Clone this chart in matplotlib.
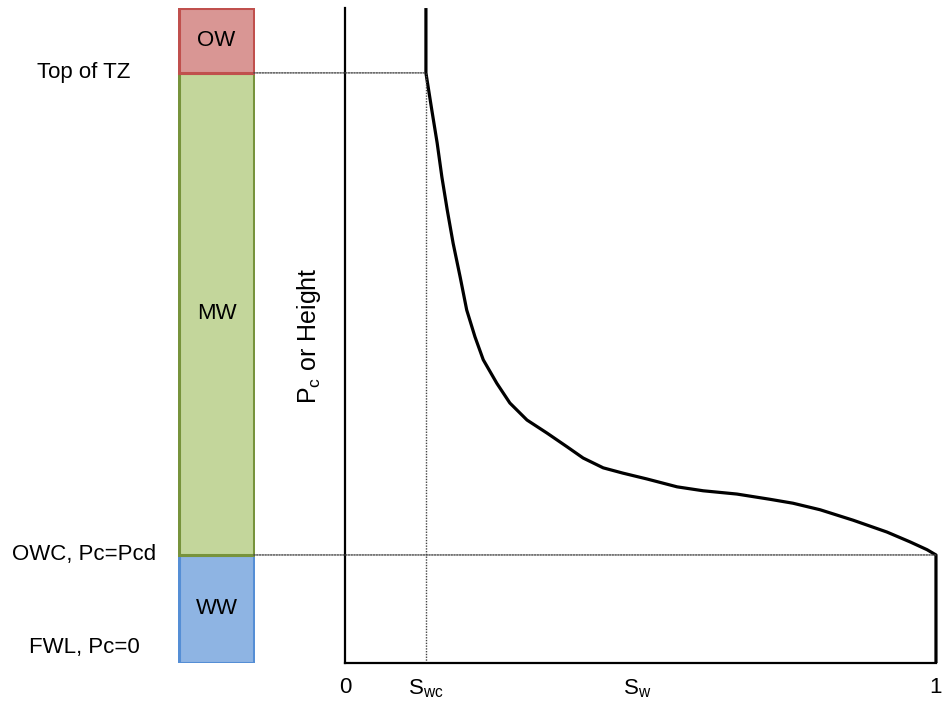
import matplotlib.pyplot as plt
from matplotlib.patches import ConnectionPatch

plt.rcParams['font.family'] = ['Liberation Sans', 'DejaVu Sans']

# кривая Pc(Sw): высота в долях от FWL до верха
sw_curve = [0.137, 0.137, 0.147, 0.156, 0.164, 0.173, 0.183, 0.195, 0.206, 0.220,
            0.234, 0.257, 0.279, 0.308, 0.342, 0.376, 0.403, 0.437, 0.470, 0.511,
            0.562, 0.606, 0.663, 0.719, 0.758, 0.804, 0.860, 0.917, 0.956, 0.985,
            1.0, 1.0]
h_curve = [1.0, 0.901, 0.844, 0.794, 0.742, 0.692, 0.641, 0.589, 0.539, 0.498,
           0.463, 0.427, 0.397, 0.371, 0.351, 0.330, 0.313, 0.298, 0.290, 0.281,
           0.269, 0.263, 0.258, 0.250, 0.244, 0.234, 0.218, 0.200, 0.185, 0.173,
           0.165, 0.0]
swc = 0.137
h_owc = 0.165
h_top_tz = 0.901

# зоны в колонке
zones = ['WW', 'MW', 'OW']
zone_bottom = [0.0, h_owc, h_top_tz]
zone_top = [h_owc, h_top_tz, 1.0]
zone_fill = ['#8eb4e3', '#c3d69b', '#d99694']
zone_edge = ['#558ed5', '#77933c', '#c0504d']

level_labels = ['Top of TZ', 'OWC, Pc=Pcd', 'FWL, Pc=0']
level_h = [h_top_tz, h_owc, 0.023]

x_ticks = [0, swc, 0.494, 1]
x_labels = ['0', r'S$_\mathregular{wc}$', r'S$_\mathregular{w}$', '1']

fig = plt.figure(figsize=(9.42, 7.07), dpi=100)
ax = fig.add_axes([0.3662, 0.0622, 0.6274, 0.9264])
axc = fig.add_axes([0.189, 0.0622, 0.0817, 0.9264])

# колонка
for name, b, t, fc, ec in zip(zones, zone_bottom, zone_top, zone_fill, zone_edge):
    axc.bar(0.5, t - b, bottom=b, width=0.97, color=fc, edgecolor=ec, linewidth=2.2)
    axc.text(0.5, (b + t) / 2, name, ha='center', va='center', fontsize=16)
axc.set_xlim(0, 1)
axc.set_ylim(0, 1)
axc.axis('off')

for lab, h in zip(level_labels, level_h):
    axc.text(-1.22, h, lab, ha='center', va='center', fontsize=16)

# основной график
ax.plot(sw_curve, h_curve, color='black', lw=2.3, solid_joinstyle='round',
        solid_capstyle='butt', clip_on=False)
ax.set_xlim(0, 1)
ax.set_ylim(0, 1)
for s in ['top', 'right']:
    ax.spines[s].set_visible(False)
for s in ['left', 'bottom']:
    ax.spines[s].set_linewidth(1.6)
ax.set_yticks([])
ax.set_xticks(x_ticks, x_labels, fontsize=16)
ax.tick_params(axis='x', length=0, pad=10)
ax.set_ylabel(r'P$_\mathregular{c}$ or Height', fontsize=18, labelpad=16)

# пунктиры
dot = dict(color='#444444', lw=1.0, linestyle=(0, (1, 1)))
ax.plot([swc, swc], [0, h_top_tz], **dot)
for h, x_end in [(h_top_tz, swc), (h_owc, 1.0)]:
    con = ConnectionPatch(xyA=(0.985, h), coordsA=axc.transData,
                          xyB=(x_end, h), coordsB=ax.transData, **dot)
    fig.add_artist(con)

fig.savefig('out.png', dpi=100)
